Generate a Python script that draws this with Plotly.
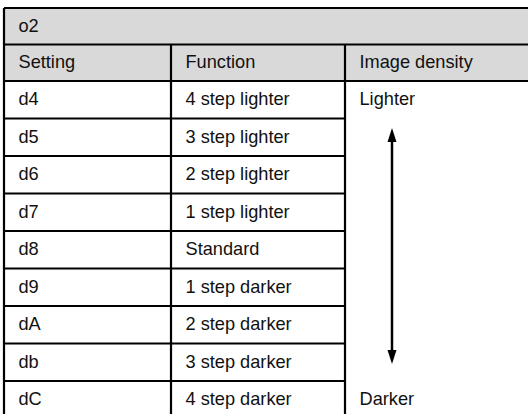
import plotly.graph_objects as go

# ---- data ----
title = "o2"
headers = ["Setting", "Function", "Image density"]
settings = ["d4", "d5", "d6", "d7", "d8", "d9", "dA", "db", "dC"]
functions = ["4 step lighter", "3 step lighter", "2 step lighter", "1 step lighter",
             "Standard", "1 step darker", "2 step darker", "3 step darker", "4 step darker"]
density_labels = ["Lighter", "Darker"]

# ---- layout constants (pixels) ----
W, H = 528, 414
x_left, x_c1, x_c2, x_right = 4, 171, 345, 540
y_top, y_hdr, y_body = 8, 44.5, 81
row_h = 37.5
pad = 14.5
FONT = dict(family="Liberation Sans, Arial, Helvetica, sans-serif", size=18.2, color="#111111")
LW = 2.2
GRAY = "#d9d9d9"

n = len(settings)
row_tops = [y_body + i * row_h for i in range(n)]
row_mid = [t + row_h / 2 for t in row_tops]

fig = go.Figure()

shapes = []
shapes.append(dict(type="rect", x0=x_left, x1=x_right, y0=y_top, y1=y_body,
                   fillcolor=GRAY, line=dict(width=0), layer="below"))

def hline(y, x0, x1):
    shapes.append(dict(type="line", x0=x0, x1=x1, y0=y, y1=y, line=dict(color="black", width=LW)))

hline(y_top, x_left, x_right)
hline(y_hdr, x_left, x_right)
hline(y_body, x_left, x_right)
for t in row_tops[1:]:
    hline(t, x_left, x_c2)

def vline(x, y0, y1):
    shapes.append(dict(type="line", x0=x, x1=x, y0=y0, y1=y1, line=dict(color="black", width=LW)))

bottom = y_body + n * row_h
vline(x_left, y_top, bottom)
vline(x_c1, y_hdr, bottom)
vline(x_c2, y_hdr, bottom)

# arrow in density column
ax = 392
tip_top, tip_bot = 128, 364
head_len, head_half = 14, 4.5
shapes.append(dict(type="line", x0=ax, x1=ax, y0=tip_top + head_len - 1, y1=tip_bot - head_len + 1,
                   line=dict(color="black", width=2.5)))
shapes.append(dict(type="path",
                   path=f"M {ax} {tip_top} L {ax - head_half} {tip_top + head_len} L {ax + head_half} {tip_top + head_len} Z",
                   fillcolor="black", line=dict(width=0)))
shapes.append(dict(type="path",
                   path=f"M {ax} {tip_bot} L {ax - head_half} {tip_bot - head_len} L {ax + head_half} {tip_bot - head_len} Z",
                   fillcolor="black", line=dict(width=0)))

# ---- text ----
tx, ty, tt = [], [], []
tx.append(x_left + pad); ty.append((y_top + y_hdr) / 2 + 1); tt.append(title)
for xc, h in zip([x_left, x_c1, x_c2], headers):
    tx.append(xc + pad); ty.append((y_hdr + y_body) / 2 + 1); tt.append(h)
for i in range(n):
    tx.append(x_left + pad); ty.append(row_mid[i] + 1); tt.append(settings[i])
    tx.append(x_c1 + pad); ty.append(row_mid[i] + 1); tt.append(functions[i])
tx.append(x_c2 + pad); ty.append(row_mid[0] + 1); tt.append(density_labels[0])
tx.append(x_c2 + pad); ty.append(row_mid[-1] + 1); tt.append(density_labels[1])

fig.add_trace(go.Scatter(x=tx, y=ty, text=tt, mode="text", textposition="middle right",
                         textfont=FONT, hoverinfo="skip", showlegend=False, cliponaxis=False))

fig.update_layout(
    width=W, height=H, margin=dict(l=0, r=0, t=0, b=0),
    paper_bgcolor="white", plot_bgcolor="white",
    xaxis=dict(range=[0, W], visible=False, fixedrange=True),
    yaxis=dict(range=[H, 0], visible=False, fixedrange=True),
    shapes=shapes, showlegend=False,
)
fig.write_html("out.html", config={"displayModeBar": False},
               post_script="document.body.style.margin='0';document.body.style.overflow='hidden';")
